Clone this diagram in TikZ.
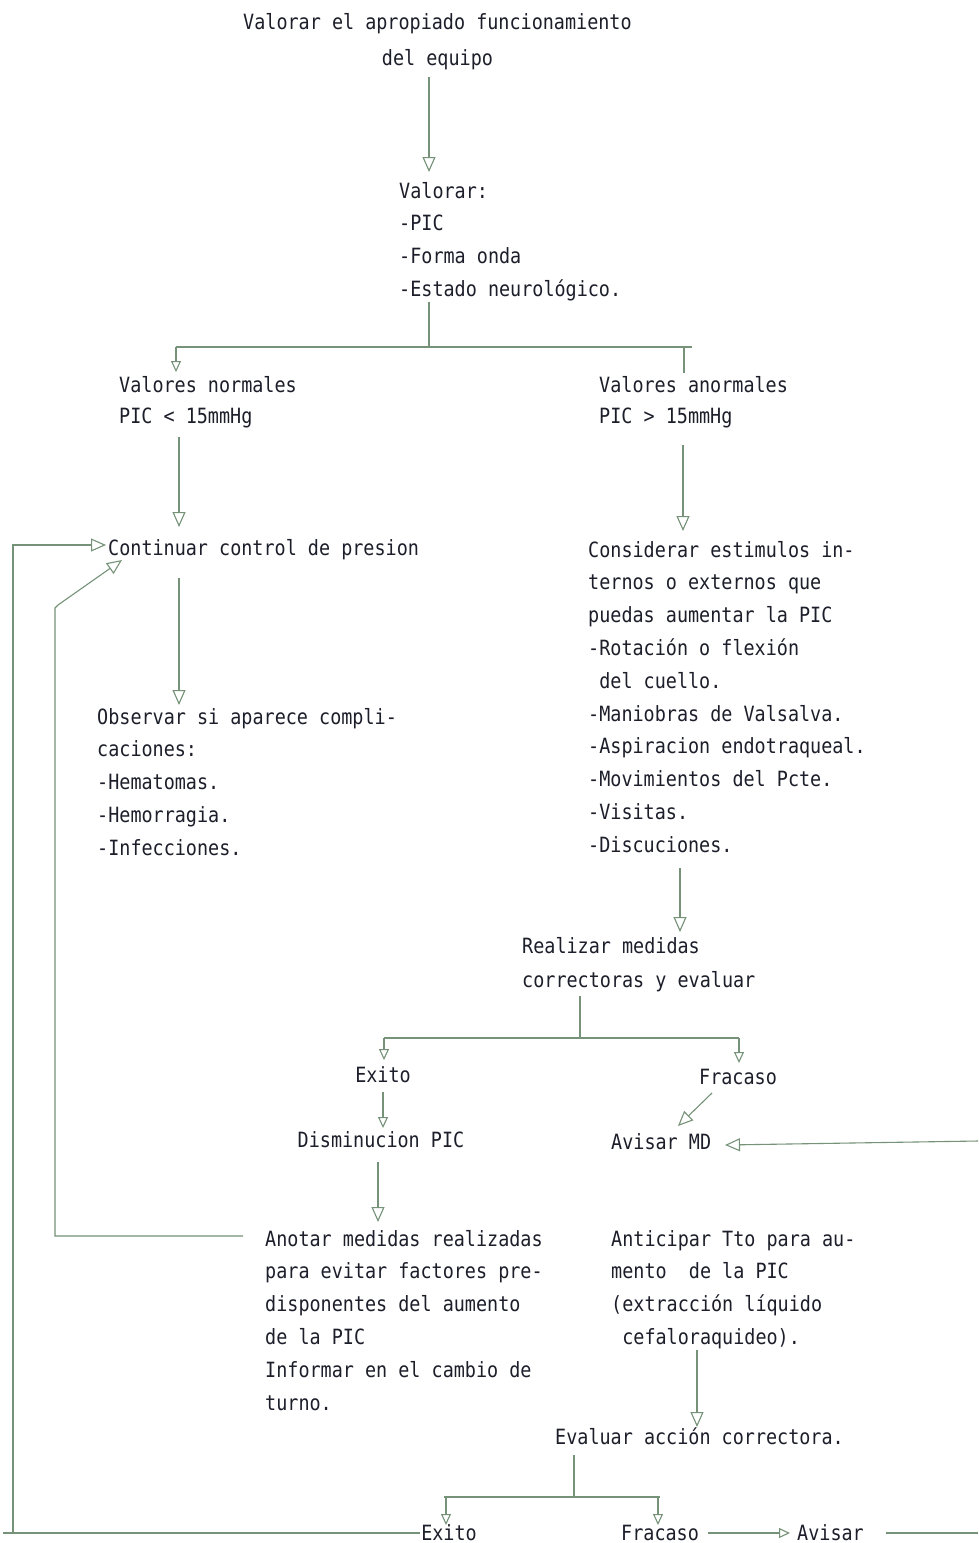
\documentclass[tikz,border=0pt]{standalone}
\usepackage{fontspec}
\usetikzlibrary{arrows.meta,calc}
\newfontfamily\dotfont[FakeStretch=0.878]{DejaVu Sans Mono}
\definecolor{ink}{RGB}{28,30,42}
\definecolor{wirecol}{RGB}{118,146,120}
% multi-line text blocks whose baseline is that of their first line
\newcommand\blkl[1]{\begin{tabular}[t]{@{}l@{}}#1\end{tabular}}
\newcommand\blkc[1]{\begin{tabular}[t]{@{}c@{}}#1\end{tabular}}
\begin{document}
\begin{tikzpicture}[x=1pt,y=-1pt,
  txt/.style={inner sep=0pt, anchor=base west, text=ink,
    font=\dotfont\fontsize{21}{32.8}\selectfont},
  ctr/.style={txt, anchor=base},
  wire/.style={draw=wirecol, line width=1.1pt},
  arr/.style={wire, -{Triangle[open, length=15pt, width=13pt]}},
  sarr/.style={wire, -{Triangle[open, length=11pt, width=10pt]}},
]
\useasboundingbox (0,0) rectangle (978,1543);
\fill[white] (0,0) rectangle (978,1543);

% ---- text blocks ----
\node[txt, font=\dotfont\fontsize{21}{36}\selectfont] (top) at (243,29)
  {\blkc{Valorar el apropiado funcionamiento\\del equipo}};
\node[txt] (val) at (399,198) {\blkl{Valorar:\\-PIC\\-Forma onda\\-Estado neurológico.}};
\node[txt, font=\dotfont\fontsize{21}{31}\selectfont] (norm) at (119,392)
  {\blkl{Valores normales\\PIC < 15mmHg}};
\node[txt, font=\dotfont\fontsize{21}{31}\selectfont] (anorm) at (599,392)
  {\blkl{Valores anormales\\PIC > 15mmHg}};
\node[txt] (cont) at (108,555) {Continuar control de presion};
\node[txt] (obs) at (97,724)
  {\blkl{Observar si aparece compli-\\caciones:\\-Hematomas.\\-Hemorragia.\\-Infecciones.}};
\node[txt] (cons) at (588,557)
  {\blkl{Considerar estimulos in-\\ternos o externos que\\puedas aumentar la PIC\\-Rotación o flexión\\\ del cuello.\\-Maniobras de Valsalva.\\-Aspiracion endotraqueal.\\-Movimientos del Pcte.\\-Visitas.\\-Discuciones.}};
\node[txt, font=\dotfont\fontsize{21}{34}\selectfont] (real) at (522,953)
  {\blkl{Realizar medidas\\correctoras y evaluar}};
\node[ctr] (ex1) at (383,1082) {Exito};
\node[ctr] (fr1) at (738,1084) {Fracaso};
\node[ctr] (dis) at (381,1147) {Disminucion PIC};
\node[txt] (amd) at (611,1149) {Avisar MD};
\node[txt] (anot) at (265,1246)
  {\blkl{Anotar medidas realizadas\\para evitar factores pre-\\disponentes del aumento\\de la PIC\\Informar en el cambio de\\turno.}};
\node[txt] (anti) at (611,1246)
  {\blkl{Anticipar Tto para au-\\mento\ \ de la PIC\\(extracción líquido\\\ cefaloraquideo).}};
\node[txt] (eva) at (555,1444) {Evaluar acción correctora.};
\node[ctr] (ex2) at (449,1540) {Exito};
\node[txt] (fr2) at (621,1540) {Fracaso};
\node[txt] (av2) at (797,1540) {Avisar};

% ---- connectors ----
\draw[arr] ($(top.base west)+(186,48)$) -- ($(val.base west)+(30,-26)$);

\coordinate (fork1) at (429,347);
\draw[wire] ($(val.base west)+(30,104)$) -- (fork1);
\draw[wire] ($(norm.base west)+(57,-45)$) -- ($(anorm.base west)+(93,-45)$);
\draw[sarr] ($(norm.base west)+(57,-45)$) -- ($(norm.base west)+(57,-20)$);
\draw[wire] ($(anorm.base west)+(85,-45)$) -- ($(anorm.base west)+(85,-19)$);

\draw[arr] ($(norm.base west)+(60,45)$) -- ($(cont.base west)+(71,-28)$);
\draw[arr] ($(anorm.base west)+(84,53)$) -- ($(cons.base west)+(95,-26)$);
\draw[arr] ($(cont.base west)+(71,23)$) -- ($(obs.base west)+(82,-19)$);
\draw[arr] ($(cons.base west)+(92,311)$) -- ($(real.base west)+(158,-21)$);

\coordinate (fork2) at (580,1038);
\draw[wire] ($(real.base west)+(58,43)$) -- (fork2);
\draw[wire] ($(ex1.base)+(1,-44)$) -- ($(fr1.base)+(1,-46)$);
\draw[sarr] ($(ex1.base)+(1,-44)$) -- ($(ex1.base)+(1,-22)$);
\draw[sarr] ($(fr1.base)+(1,-46)$) -- ($(fr1.base)+(1,-21)$);

\draw[sarr] ($(ex1.base)+(0,10)$) -- ($(dis.base)+(2,-19)$);
\draw[arr] ($(fr1.base)+(-26,9)$) -- ($(amd.base west)+(67,-23)$);
\coordinate (inMD) at (978,1141);
\draw[arr] (inMD) -- ($(amd.base west)+(114,-4)$);
\draw[arr] ($(dis.base)+(-3,15)$) -- ($(anot.base west)+(113,-24)$);

% feedback from the notes back to pressure control
\draw[arr] ($(anot.base west)+(-22,-10)$) -- ++(-188,0) -- ++(0,-628) -- ++(3,-3)
  -- ($(cont.base west)+(14,5)$);
% outer loop from the second success
\draw[wire] ($(ex2.base)+(-29,-7)$) -- ++(-417,0);
\draw[arr] ($(ex2.base)+(-29,-7)$) -- ++(-407,0) -- ++(0,-988)
  -- ($(cont.base west)+(-2,-10)$);

\draw[arr] ($(anti.base west)+(86,104)$) -- ($(eva.base west)+(142,-17)$);
\coordinate (fork3) at (574,1497);
\draw[wire] ($(eva.base west)+(19,11)$) -- (fork3);
\draw[wire] ($(ex2.base)+(-5,-43)$) -- ($(fr2.base west)+(39,-43)$);
\draw[sarr] ($(ex2.base)+(-3,-43)$) -- ($(ex2.base)+(-3,-15)$);
\draw[sarr] ($(fr2.base west)+(37,-43)$) -- ($(fr2.base west)+(37,-15)$);

\draw[sarr] ($(fr2.base west)+(87,-7)$) -- ($(av2.base west)+(-7,-7)$);
\coordinate (outR) at (978,1533);
\draw[wire] ($(av2.base west)+(89,-7)$) -- (outR);
\end{tikzpicture}
\end{document}
